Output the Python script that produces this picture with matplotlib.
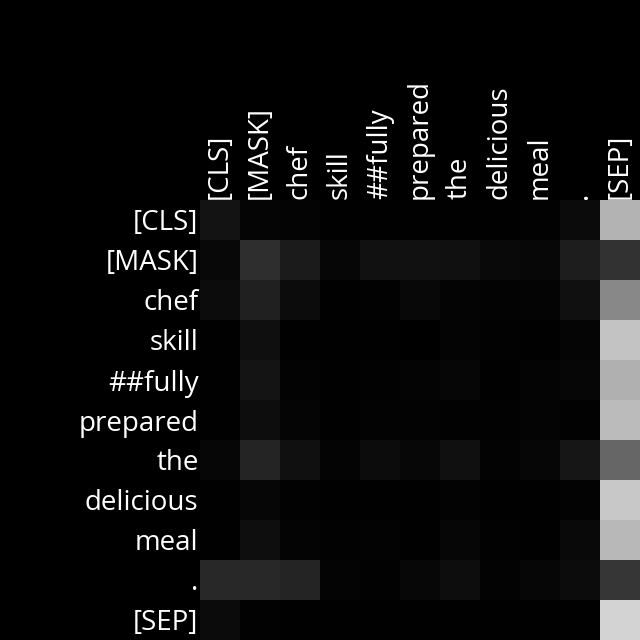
import matplotlib
matplotlib.use("Agg")
import matplotlib.pyplot as plt
import numpy as np

tokens = ["[CLS]", "[MASK]", "chef", "skill", "##fully", "prepared", "the",
          "delicious", "meal", ".", "[SEP]"]

# attention weights (approx., read from grayscale intensity)
row_cls      = [0.075, 0.020, 0.016, 0.004, 0.004, 0.004, 0.004, 0.004, 0.008, 0.043, 0.702]
row_mask     = [0.035, 0.180, 0.106, 0.024, 0.067, 0.067, 0.063, 0.039, 0.031, 0.114, 0.196]
row_chef     = [0.047, 0.125, 0.047, 0.004, 0.008, 0.035, 0.016, 0.012, 0.016, 0.063, 0.533]
row_skill    = [0.004, 0.059, 0.004, 0.004, 0.004, 0.000, 0.016, 0.008, 0.004, 0.020, 0.765]
row_fully    = [0.004, 0.082, 0.012, 0.004, 0.008, 0.016, 0.027, 0.004, 0.016, 0.024, 0.690]
row_prepared = [0.004, 0.051, 0.020, 0.004, 0.012, 0.012, 0.008, 0.008, 0.016, 0.008, 0.733]
row_the      = [0.024, 0.145, 0.063, 0.016, 0.047, 0.031, 0.063, 0.012, 0.024, 0.086, 0.400]
row_delic    = [0.004, 0.027, 0.008, 0.004, 0.004, 0.004, 0.012, 0.004, 0.004, 0.012, 0.784]
row_meal     = [0.004, 0.055, 0.016, 0.008, 0.012, 0.004, 0.024, 0.008, 0.004, 0.039, 0.722]
row_dot      = [0.157, 0.157, 0.145, 0.016, 0.008, 0.031, 0.051, 0.012, 0.024, 0.047, 0.212]
row_sep      = [0.043, 0.008, 0.004, 0.004, 0.004, 0.004, 0.004, 0.004, 0.004, 0.004, 0.827]

attn = np.array([row_cls, row_mask, row_chef, row_skill, row_fully, row_prepared,
                 row_the, row_delic, row_meal, row_dot, row_sep])

fig = plt.figure(figsize=(6.4, 6.4), dpi=100, facecolor="black")
ax = fig.add_axes([200/640, 0, 440/640, 440/640])
ax.set_facecolor("black")
ax.imshow(attn, cmap="gray", vmin=0, vmax=1, aspect="auto", interpolation="nearest")

ax.set_xticks(range(len(tokens)))
ax.set_yticks(range(len(tokens)))
ax.set_xticklabels(tokens, rotation=90, family="Open Sans", fontsize=20, color="white")
ax.set_yticklabels(tokens, family="Open Sans", fontsize=20, color="white")
ax.xaxis.tick_top()
ax.tick_params(length=0, pad=1)
for s in ax.spines.values():
    s.set_visible(False)

fig.savefig("out.png", dpi=100, facecolor="black")
